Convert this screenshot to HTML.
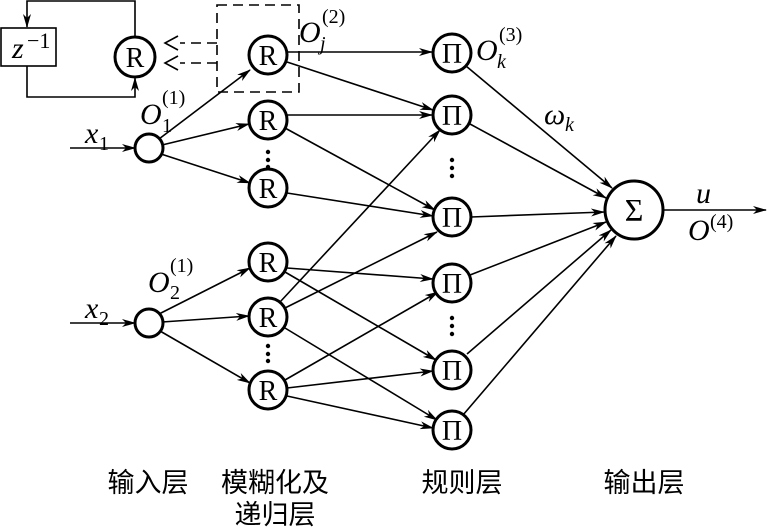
<!DOCTYPE html>
<html><head><meta charset="utf-8"><style>
body{margin:0;background:#fff}
svg{display:block}
text{font-family:"Liberation Serif",serif;fill:#000}
.c{font-family:"Liberation Sans","Noto Sans CJK SC",sans-serif;font-size:27px}
</style></head><body>
<svg width="768" height="531" viewBox="0 0 768 531" xmlns="http://www.w3.org/2000/svg">
<defs><marker id="a" markerWidth="14" markerHeight="8" refX="13" refY="4" orient="auto" markerUnits="userSpaceOnUse"><path d="M0,0 L14,4 L0,8 L4,4z" fill="#000"/></marker></defs>
<g stroke="#000" stroke-width="1.6" fill="none" marker-end="url(#a)">
<path d="M135,36 V1 H27 V27"/>
<path d="M27,66 V97 H135 V78"/>
<line x1="70" y1="148" x2="135" y2="148"/>
<line x1="70" y1="323" x2="135" y2="323"/>
<line x1="159" y1="139" x2="250" y2="70"/>
<line x1="162" y1="145" x2="249" y2="124"/>
<line x1="161" y1="154" x2="250" y2="183"/>
<line x1="159" y1="314" x2="250" y2="268"/>
<line x1="162" y1="322" x2="249" y2="316"/>
<line x1="160" y1="331" x2="250" y2="383"/>
<line x1="287" y1="52" x2="432" y2="52"/>
<line x1="287" y1="62" x2="433" y2="110"/>
<line x1="287" y1="115" x2="432" y2="115"/>
<line x1="285" y1="128" x2="435" y2="210"/>
<line x1="287" y1="193" x2="433" y2="216"/>
<line x1="287" y1="268" x2="433" y2="279"/>
<line x1="285" y1="272" x2="436" y2="360"/>
<line x1="280" y1="302" x2="440" y2="130"/>
<line x1="285" y1="308" x2="437" y2="232"/>
<line x1="285" y1="328" x2="437" y2="420"/>
<line x1="285" y1="380" x2="438" y2="292"/>
<line x1="287" y1="388" x2="433" y2="371"/>
<line x1="287" y1="396" x2="433" y2="428"/>
<line x1="466" y1="66" x2="612" y2="188"/>
<line x1="470" y1="124" x2="606" y2="198"/>
<line x1="471" y1="217" x2="604" y2="212"/>
<line x1="470" y1="275" x2="606" y2="222"/>
<line x1="467" y1="354" x2="611" y2="230"/>
<line x1="463" y1="415" x2="616" y2="236"/>
<line x1="664" y1="210" x2="766" y2="210"/>
</g>
<g stroke="#000" stroke-width="1.6" fill="none" stroke-dasharray="10,6">
<rect x="217" y="5" width="82" height="87"/>
<line x1="217" y1="43" x2="180" y2="43"/>
<line x1="217" y1="63" x2="180" y2="63"/>
</g>
<g stroke="#000" stroke-width="1.6" fill="none">
<path d="M178,36 L165,43 L178,50"/><path d="M178,56 L165,63 L178,70"/>
<rect x="1" y="28" width="55" height="38"/>
</g>
<g stroke="#000" stroke-width="3" fill="#fff">
<circle cx="135" cy="57" r="20"/>
<circle cx="149" cy="148" r="14"/><circle cx="149" cy="323" r="14"/>
<circle cx="268" cy="55" r="19"/><circle cx="268" cy="120" r="19"/><circle cx="268" cy="188" r="19"/>
<circle cx="268" cy="262" r="19"/><circle cx="268" cy="317" r="19"/><circle cx="268" cy="390" r="19"/>
<circle cx="452" cy="53" r="19"/><circle cx="452" cy="115" r="19"/><circle cx="452" cy="217" r="19"/>
<circle cx="452" cy="283" r="19"/><circle cx="452" cy="370" r="19"/><circle cx="452" cy="430" r="19"/>
<circle cx="634" cy="210" r="29"/>
</g>
<g fill="#000">
<circle cx="268" cy="152" r="2.2"/><circle cx="268" cy="160" r="2.2"/><circle cx="268" cy="167" r="2.2"/>
<circle cx="268" cy="346" r="2.2"/><circle cx="268" cy="354" r="2.2"/><circle cx="268" cy="361" r="2.2"/>
<circle cx="452" cy="160" r="2.2"/><circle cx="452" cy="168" r="2.2"/><circle cx="452" cy="176" r="2.2"/>
<circle cx="452" cy="318" r="2.2"/><circle cx="452" cy="326" r="2.2"/><circle cx="452" cy="334" r="2.2"/>
</g>
<g font-size="28" text-anchor="middle">
<text x="135" y="67">R</text>
<text x="268" y="65">R</text><text x="268" y="130">R</text><text x="268" y="198">R</text>
<text x="268" y="272">R</text><text x="268" y="327">R</text><text x="268" y="400">R</text>
<text x="452" y="63">Π</text><text x="452" y="125">Π</text><text x="452" y="227">Π</text>
<text x="452" y="293">Π</text><text x="452" y="380">Π</text><text x="452" y="440">Π</text>
<text x="634" y="221" font-size="32">Σ</text>
</g>
<g font-size="30" font-style="italic">
<text x="12" y="58">z</text><text x="27" y="48" font-size="22" font-style="normal">−1</text>
<text x="140" y="124">O</text><text x="162" y="132" font-size="20" font-style="normal">1</text><text x="162" y="104" font-size="20" font-style="normal">(1)</text>
<text x="85" y="143">x</text><text x="99" y="150" font-size="20" font-style="normal">1</text>
<text x="85" y="318">x</text><text x="99" y="325" font-size="20" font-style="normal">2</text>
<text x="148" y="292">O</text><text x="170" y="299" font-size="20" font-style="normal">2</text><text x="170" y="272" font-size="20" font-style="normal">(1)</text>
<text x="299" y="42">O</text><text x="320" y="50" font-size="20">j</text><text x="322" y="23" font-size="20" font-style="normal">(2)</text>
<text x="476" y="60">O</text><text x="497" y="68" font-size="20">k</text><text x="499" y="41" font-size="20" font-style="normal">(3)</text>
<text x="544" y="124">ω</text><text x="565" y="131" font-size="20">k</text>
<text x="696" y="203">u</text>
<text x="688" y="240">O</text><text x="710" y="228" font-size="20" font-style="normal">(4)</text>
</g>
<text class="c" x="148" y="492" text-anchor="middle">输入层</text>
<text class="c" x="275" y="492" text-anchor="middle">模糊化及</text>
<text class="c" x="275" y="524" text-anchor="middle">递归层</text>
<text class="c" x="462" y="492" text-anchor="middle">规则层</text>
<text class="c" x="644" y="492" text-anchor="middle">输出层</text>
</svg>
</body></html>
